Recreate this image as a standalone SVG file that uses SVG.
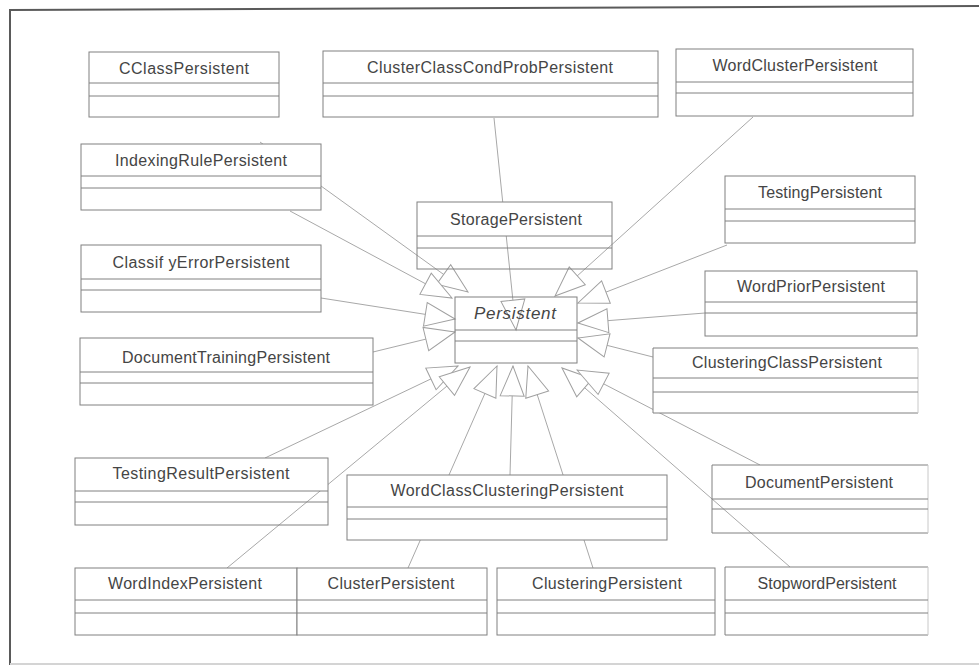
<svg xmlns="http://www.w3.org/2000/svg" width="979" height="670" viewBox="0 0 979 670">
  <style>
    .frame { stroke: #5a5a5a; stroke-width: 2; fill: none; }
    .box { fill: #fff; stroke: #808080; stroke-width: 1; }
    .open { fill: none; stroke: #808080; stroke-width: 1; }
    .head { fill: #fff; stroke: none; }
    .div { stroke: #808080; stroke-width: 1; }
    .faint { stroke: #c8c8c8; stroke-width: 1; }
    .lbl { font-family: "Liberation Sans", Arial, sans-serif; font-size: 16px; fill: #454545; text-anchor: middle; }
    .abs { font-style: italic; font-size: 17px; }
    .conn line { stroke: #a8a8a8; stroke-width: 1; marker-end: url(#gen); }
  </style>
  <defs>
    <!-- hollow generalization arrowhead -->
    <marker id="gen" markerUnits="userSpaceOnUse" viewBox="-32 -14 34 28" markerWidth="34" markerHeight="28" refX="0" refY="0" orient="auto">
      <path d="M0,0 L-30,-12 L-30,12 Z" fill="#fff" stroke="#a0a0a0" stroke-width="1"/>
    </marker>
  </defs>

  <rect width="979" height="670" fill="#fff"/>

  <!-- outer frame -->
  <line class="frame" x1="10" y1="10" x2="979" y2="6"/>
  <line class="frame" x1="10" y1="9" x2="10" y2="665"/>
  <line x1="10" y1="664" x2="979" y2="664" stroke="#d4d4d4" stroke-width="2"/>

  <!-- generalization connectors to Persistent -->
  <g id="connectors" class="conn">
    <line x1="260" y1="142" x2="468" y2="292"/>
    <line x1="290" y1="211" x2="452" y2="298"/>
    <line x1="321" y1="298" x2="455" y2="319"/>
    <line x1="373" y1="352" x2="455" y2="332"/>
    <line x1="265" y1="458" x2="458" y2="366"/>
    <line x1="227" y1="568" x2="470" y2="367"/>
    <line x1="408" y1="568" x2="497" y2="366"/>
    <line x1="510" y1="475" x2="513" y2="366"/>
    <line x1="593" y1="568" x2="528" y2="366"/>
    <line x1="790" y1="567" x2="562" y2="368"/>
    <line x1="760" y1="465" x2="577" y2="370"/>
    <line x1="653" y1="357" x2="578" y2="338"/>
    <line x1="705" y1="313" x2="578" y2="323"/>
    <line x1="727" y1="245" x2="578" y2="303"/>
    <line x1="753" y1="117" x2="555" y2="296"/>
    <line x1="494" y1="118" x2="516" y2="330"/>
  </g>

  <g id="CClassPersistent">
    <rect class="box" x="89" y="52" width="190" height="65"/>
    <line class="div" x1="89" y1="83" x2="279" y2="83"/>
    <line class="div" x1="89" y1="96" x2="279" y2="96"/>
    <text class="lbl" x="184" y="74" textLength="130">CClassPersistent</text>
  </g>

  <g id="ClusterClassCondProbPersistent">
    <rect class="box" x="323" y="51" width="335" height="66"/>
    <line class="div" x1="323" y1="83" x2="658" y2="83"/>
    <line class="div" x1="323" y1="96" x2="658" y2="96"/>
    <text class="lbl" x="490" y="73" textLength="246">ClusterClassCondProbPersistent</text>
  </g>

  <g id="WordClusterPersistent">
    <rect class="box" x="676" y="49" width="237" height="67"/>
    <line class="div" x1="676" y1="82" x2="913" y2="82"/>
    <line class="div" x1="676" y1="93" x2="913" y2="93"/>
    <text class="lbl" x="795" y="71" textLength="165">WordClusterPersistent</text>
  </g>

  <g id="IndexingRulePersistent">
    <rect class="box" x="81" y="144" width="240" height="66"/>
    <line class="div" x1="81" y1="176" x2="321" y2="176"/>
    <line class="div" x1="81" y1="188" x2="321" y2="188"/>
    <text class="lbl" x="201" y="166" textLength="172">IndexingRulePersistent</text>
  </g>

  <g id="StoragePersistent">
    <rect class="head" x="417" y="202" width="195" height="34"/>
    <rect class="open" x="417" y="202" width="195" height="67"/>
    <line class="div" x1="417" y1="236" x2="612" y2="236"/>
    <line class="div" x1="417" y1="248" x2="612" y2="248"/>
    <text class="lbl" x="516" y="225" textLength="132">StoragePersistent</text>
  </g>

  <g id="TestingPersistent">
    <rect class="box" x="725" y="176" width="190" height="67"/>
    <line class="div" x1="725" y1="209" x2="915" y2="209"/>
    <line class="div" x1="725" y1="221" x2="915" y2="221"/>
    <text class="lbl" x="820" y="198" textLength="124">TestingPersistent</text>
  </g>

  <g id="ClassifyErrorPersistent">
    <rect class="box" x="81" y="245" width="240" height="67"/>
    <line class="div" x1="81" y1="279" x2="321" y2="279"/>
    <line class="div" x1="81" y1="290" x2="321" y2="290"/>
    <text class="lbl" x="201" y="268" textLength="177">Classif yErrorPersistent</text>
  </g>

  <g id="DocumentTrainingPersistent">
    <rect class="box" x="80" y="338" width="293" height="67"/>
    <line class="div" x1="80" y1="372" x2="373" y2="372"/>
    <line class="div" x1="80" y1="383" x2="373" y2="383"/>
    <text class="lbl" x="226" y="363" textLength="208">DocumentTrainingPersistent</text>
  </g>

  <g id="Persistent">
    <rect class="open" x="455" y="297" width="122" height="66"/>
    <line class="div" x1="455" y1="330" x2="577" y2="330"/>
    <line class="div" x1="455" y1="341" x2="577" y2="341"/>
    <text class="lbl abs" x="515" y="319" textLength="82">Persistent</text>
  </g>

  <g id="WordPriorPersistent">
    <rect class="box" x="705" y="271" width="212" height="65"/>
    <line class="div" x1="705" y1="302" x2="917" y2="302"/>
    <line class="div" x1="705" y1="313" x2="917" y2="313"/>
    <text class="lbl" x="811" y="292" textLength="148">WordPriorPersistent</text>
  </g>

  <g id="ClusteringClassPersistent">
    <rect class="box" x="653" y="348" width="265" height="65" stroke-dasharray="265 65 265 0"/>
    <line class="faint" x1="918" y1="348" x2="918" y2="413"/>
    <line class="div" x1="653" y1="378" x2="918" y2="378"/>
    <line class="div" x1="653" y1="392" x2="918" y2="392"/>
    <text class="lbl" x="787" y="368" textLength="190">ClusteringClassPersistent</text>
  </g>

  <g id="TestingResultPersistent">
    <rect class="head" x="75" y="458" width="253" height="33"/>
    <rect class="open" x="75" y="458" width="253" height="67"/>
    <line class="div" x1="75" y1="491" x2="328" y2="491"/>
    <line class="div" x1="75" y1="502" x2="328" y2="502"/>
    <text class="lbl" x="201" y="479" textLength="177">TestingResultPersistent</text>
  </g>

  <g id="WordClassClusteringPersistent">
    <rect class="box" x="347" y="475" width="320" height="65"/>
    <line class="div" x1="347" y1="507" x2="667" y2="507"/>
    <line class="div" x1="347" y1="519" x2="667" y2="519"/>
    <text class="lbl" x="507" y="496" textLength="233">WordClassClusteringPersistent</text>
  </g>

  <g id="DocumentPersistent">
    <rect class="head" x="712" y="465" width="216" height="34"/>
    <path class="open" d="M928,465 H712 V533 H928"/>
    <line class="faint" x1="928" y1="465" x2="928" y2="533"/>
    <line class="div" x1="712" y1="499" x2="928" y2="499"/>
    <line class="div" x1="712" y1="509" x2="928" y2="509"/>
    <text class="lbl" x="819" y="488" textLength="148">DocumentPersistent</text>
  </g>

  <g id="WordIndexPersistent">
    <rect class="box" x="75" y="568" width="222" height="67"/>
    <line class="div" x1="75" y1="600" x2="297" y2="600"/>
    <line class="div" x1="75" y1="613" x2="297" y2="613"/>
    <text class="lbl" x="185" y="589" textLength="154">WordIndexPersistent</text>
  </g>

  <g id="ClusterPersistent">
    <rect class="box" x="297" y="568" width="190" height="67"/>
    <line class="div" x1="297" y1="600" x2="487" y2="600"/>
    <line class="div" x1="297" y1="613" x2="487" y2="613"/>
    <text class="lbl" x="391" y="589" textLength="127">ClusterPersistent</text>
  </g>

  <g id="ClusteringPersistent">
    <rect class="box" x="497" y="568" width="218" height="67"/>
    <line class="div" x1="497" y1="600" x2="715" y2="600"/>
    <line class="div" x1="497" y1="613" x2="715" y2="613"/>
    <text class="lbl" x="607" y="589" textLength="150">ClusteringPersistent</text>
  </g>

  <g id="StopwordPersistent">
    <rect class="head" x="725" y="567" width="203" height="68"/>
    <path class="open" d="M928,567 H725 V635 H928"/>
    <line class="faint" x1="928" y1="567" x2="928" y2="635"/>
    <line class="div" x1="725" y1="600" x2="928" y2="600"/>
    <line class="div" x1="725" y1="613" x2="928" y2="613"/>
    <text class="lbl" x="827" y="589" textLength="139">StopwordPersistent</text>
  </g>
</svg>
